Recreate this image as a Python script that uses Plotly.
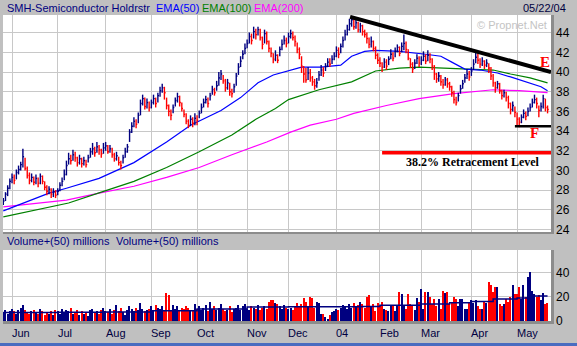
import pandas as pd
import plotly.graph_objects as go

# ---------------- data ----------------
holidays = ["2003-07-04", "2003-09-01", "2003-11-27", "2003-12-25",
            "2004-01-01", "2004-01-19", "2004-02-16", "2004-04-09"]
dates = pd.bdate_range("2003-05-27", "2004-05-21")
dates = dates[~dates.isin(pd.to_datetime(holidays))]

close = [
    26.9, 27.6, 28.2, 28.9,
    29.3, 29.0, 29.8, 30.1, 30.6, 31.4, 30.2, 29.5, 29.0, 29.3, 28.8, 29.2, 28.7, 29.4, 28.9, 28.3, 27.9, 28.1, 27.6, 27.8, 27.5,
    27.9, 28.5, 28.9, 29.6, 30.5, 31.2, 31.0, 31.6, 31.3, 30.8, 31.2, 30.7, 31.0, 30.6, 31.3, 31.9, 32.2, 31.8, 32.4, 32.1, 31.7, 32.3,
    32.5, 31.9, 32.2, 31.6, 31.2, 31.5, 30.8, 30.5, 31.3, 31.9, 32.4, 33.9, 34.5, 35.0, 34.7, 35.6, 36.8, 37.3, 36.5, 36.9, 36.4,
    36.9, 37.3, 36.8, 37.6, 38.1, 38.4, 37.9, 36.6, 36.0, 35.6, 36.4, 37.1, 37.5, 36.9, 36.3, 35.7, 35.0, 34.6, 35.2, 34.8, 35.3,
    35.1, 35.8, 36.4, 36.9, 37.2, 36.8, 37.6, 38.2, 37.9, 38.6, 39.4, 39.8, 39.1, 38.4, 38.9, 38.0, 37.8, 38.5, 39.6, 40.5, 41.1, 41.8, 42.4,
    42.9, 43.6, 43.2, 44.1, 43.8, 44.3, 43.5, 42.8, 43.9, 43.1, 42.4, 41.9, 41.3, 41.7, 41.2, 42.3, 42.8, 43.2, 42.9,
    43.6, 43.9, 43.5, 43.1, 42.3, 41.8, 40.6, 39.8, 39.2, 39.9, 39.4, 39.0, 38.6, 38.9, 39.7, 40.2, 39.9, 40.6, 41.0, 40.8, 41.3, 41.6,
    42.2, 41.8, 42.6, 43.2, 43.8, 44.3, 44.9, 45.3, 44.6, 45.0, 44.3, 44.7, 44.1, 43.8, 43.4, 42.8, 43.1, 42.4, 41.7, 41.2,
    40.9, 40.5, 41.0, 40.6, 41.3, 41.8, 41.4, 42.1, 42.5, 41.9, 42.6, 42.9, 42.3, 41.4, 40.8, 40.3, 40.9, 41.4, 40.9,
    41.2, 41.6, 41.1, 41.7, 41.3, 40.6, 39.8, 39.3, 39.6, 39.0, 38.7, 39.2, 38.8, 38.5, 37.9, 37.2, 36.9, 37.6, 38.3, 38.8, 39.4, 39.8, 39.5,
    40.1, 40.8, 41.5, 41.2, 40.8, 41.1, 40.7, 40.9, 40.4, 39.6, 38.9, 38.4, 38.8, 38.1, 37.6, 37.9, 37.4, 36.8, 36.2, 36.6, 35.9,
    35.2, 34.9, 35.4, 35.8, 35.5, 36.0, 36.4, 36.9, 37.2, 36.8, 36.1, 36.5, 37.3, 36.4, 36.2,
]
high = [
    27.2, 27.8, 28.5, 29.2,
    29.7, 29.6, 30.1, 30.5, 30.9, 32.2, 31.3, 30.4, 29.8, 29.7, 29.4, 29.6, 29.3, 29.7, 29.5, 28.9, 28.5, 28.4, 28.2, 28.2, 28.0,
    28.2, 28.8, 29.3, 30.1, 31.0, 31.8, 31.6, 32.1, 31.9, 31.4, 31.6, 31.3, 31.4, 31.1, 31.6, 32.3, 32.8, 32.4, 32.9, 32.6, 32.2, 32.8,
    32.9, 32.6, 32.6, 32.3, 31.8, 31.9, 31.4, 31.0, 31.6, 32.3, 32.7, 34.2, 34.9, 35.4, 35.2, 35.9, 37.2, 37.7, 37.4, 37.3, 37.0,
    37.2, 37.7, 37.4, 37.9, 38.5, 38.8, 38.5, 37.4, 36.7, 36.2, 36.7, 37.4, 37.9, 37.6, 36.9, 36.2, 35.8, 35.2, 35.6, 35.4, 35.8,
    35.6, 36.1, 36.8, 37.3, 37.6, 37.4, 37.9, 38.6, 38.4, 39.1, 40.0, 40.2, 39.7, 39.3, 39.3, 38.9, 38.3, 38.8, 39.9, 40.9, 41.6, 42.2, 42.9,
    43.3, 44.0, 43.9, 44.6, 44.4, 44.6, 44.4, 43.6, 44.3, 44.1, 43.2, 42.5, 41.9, 42.2, 41.8, 42.6, 43.3, 43.7, 43.5,
    44.0, 44.3, 44.1, 43.7, 43.0, 42.5, 41.6, 40.6, 40.4, 40.5, 40.3, 39.6, 39.3, 39.4, 40.1, 40.7, 40.5, 40.9, 41.4, 41.4, 41.7, 42.0,
    42.6, 42.5, 42.9, 43.6, 44.3, 44.8, 45.4, 45.6, 45.5, 45.4, 45.1, 45.0, 44.8, 44.3, 44.0, 43.5, 43.6, 43.2, 42.6, 41.9,
    41.5, 41.0, 41.4, 41.3, 41.6, 42.3, 42.0, 42.5, 42.8, 42.6, 43.0, 43.8, 43.1, 42.3, 41.4, 41.0, 41.3, 41.8, 41.6,
    41.6, 42.1, 41.8, 42.2, 41.9, 41.4, 40.7, 39.9, 40.0, 39.7, 39.3, 39.5, 39.4, 39.0, 38.6, 38.1, 37.5, 37.9, 38.7, 39.2, 39.8, 40.3, 40.1,
    40.5, 41.3, 42.0, 41.9, 41.4, 41.5, 41.2, 41.3, 40.9, 40.5, 39.8, 39.0, 39.1, 38.9, 38.2, 38.2, 38.0, 37.6, 36.9, 37.0, 36.5,
    35.9, 35.4, 35.7, 36.2, 36.0, 36.4, 36.8, 37.3, 37.7, 37.4, 36.6, 36.9, 37.7, 37.3, 36.6,
]
low = [
    26.5, 26.9, 27.4, 28.1,
    28.7, 28.6, 29.1, 29.6, 30.0, 30.3, 30.0, 29.2, 28.6, 28.8, 28.5, 28.6, 28.3, 28.6, 28.6, 28.0, 27.5, 27.6, 27.2, 27.3, 27.2,
    27.5, 27.9, 28.4, 29.0, 29.5, 30.6, 30.6, 31.0, 30.9, 30.4, 30.6, 30.3, 30.5, 30.3, 30.8, 31.3, 31.6, 31.4, 31.8, 31.6, 31.3, 31.7,
    32.0, 31.7, 31.8, 31.3, 30.9, 31.0, 30.5, 30.1, 30.7, 31.3, 31.8, 32.9, 33.8, 34.4, 34.3, 34.8, 35.6, 36.6, 36.2, 36.3, 36.0,
    36.3, 36.7, 36.4, 36.9, 37.5, 37.9, 37.2, 36.2, 35.5, 35.1, 35.8, 36.5, 36.9, 36.5, 36.0, 35.4, 34.7, 34.3, 34.5, 34.4, 34.6,
    34.6, 35.3, 35.8, 36.4, 36.8, 36.4, 37.1, 37.7, 37.6, 38.1, 38.6, 39.2, 38.8, 38.0, 38.2, 37.6, 37.4, 37.9, 38.6, 39.7, 40.5, 41.3, 41.8,
    42.4, 42.9, 42.8, 43.4, 43.3, 43.7, 43.2, 42.3, 42.9, 42.8, 42.0, 41.5, 40.9, 41.1, 40.9, 41.6, 42.2, 42.8, 42.5,
    42.9, 43.4, 43.2, 42.6, 41.9, 41.3, 39.9, 38.9, 38.9, 39.2, 39.0, 38.6, 38.2, 38.4, 39.1, 39.6, 39.5, 40.1, 40.5, 40.5, 40.8, 41.2,
    41.5, 41.4, 41.9, 42.5, 43.2, 43.7, 44.2, 44.6, 44.3, 44.4, 44.0, 44.0, 43.7, 43.5, 42.9, 42.4, 42.5, 42.1, 41.3, 40.8,
    40.5, 40.0, 40.4, 40.2, 40.7, 41.3, 41.1, 41.5, 42.0, 41.6, 42.0, 42.2, 41.9, 41.2, 40.4, 39.9, 40.3, 40.8, 40.5,
    40.7, 41.1, 40.8, 41.1, 40.9, 40.2, 39.2, 38.9, 39.0, 38.6, 38.3, 38.6, 38.4, 38.1, 37.5, 36.8, 36.6, 37.0, 37.8, 38.3, 38.9, 39.3, 39.1,
    39.6, 40.2, 40.9, 40.8, 40.4, 40.6, 40.3, 40.5, 39.9, 39.2, 38.5, 37.9, 38.3, 37.8, 37.2, 37.4, 37.0, 36.3, 35.7, 36.0, 35.4,
    34.6, 34.4, 34.8, 35.3, 35.1, 35.5, 36.0, 36.4, 36.8, 36.3, 35.4, 36.0, 36.3, 36.0, 35.8,
]
volume = [
    7, 9, 6, 8,
    10, 8, 6, 9, 11, 13, 9, 7, 6, 8, 9, 7, 6, 10, 8, 5, 7, 6, 8, 5, 9,
    8, 6, 10, 7, 9, 8, 11, 6, 7, 9, 5, 8, 6, 7, 4, 9, 10, 7, 8, 6, 9, 11,
    8, 7, 10, 6, 9, 13, 8, 11, 7, 5, 9, 12, 10, 8, 11, 9, 15, 10, 8, 9, 10,
    12, 8, 13, 11, 10, 12, 9, 23, 21, 8, 13, 10, 12, 9, 11, 10, 12, 11, 8, 9, 14,
    10, 12, 9, 11, 13, 8, 16, 10, 12, 9, 11, 14, 10, 8, 9, 12, 7, 10, 11, 13, 9, 12, 14,
    10, 9, 12, 11, 10, 13, 9, 11, 12, 10, 16, 17, 17, 15, 14, 12, 10, 13, 11,
    10, 11, 9, 12, 15, 12, 14, 19, 16, 12, 20, 19, 11, 16, 15, 6, 6, 3, 2, 5, 7, 8,
    10, 9, 11, 13, 12, 10, 14, 11, 15, 12, 13, 16, 14, 11, 20, 21, 12, 14, 8, 15,
    12, 16, 10, 9, 8, 12, 13, 8, 12, 24, 22, 12, 10, 22, 14, 12, 9, 19, 16,
    26, 10, 24, 24, 20, 14, 18, 12, 18, 10, 25, 23, 24, 14, 16, 20, 18, 12, 18, 18, 10, 10, 16,
    17, 15, 17, 12, 10, 10, 16, 15, 32, 30, 24, 28, 28, 14, 12, 14, 18, 16, 20, 30, 22,
    22, 28, 18, 30, 20, 36, 40, 25, 22, 20, 21, 17, 23, 14, 15,
]

# moving averages at sample bars
ema50_idx = [0, 8, 21, 29, 44, 60, 75, 86, 100, 109, 117, 124, 132, 137, 146, 155, 160, 166, 171, 182, 194, 201, 206, 212, 219, 227, 233, 240, 247, 250]
ema50_val = [25.9, 26.6, 27.7, 28.2, 29.2, 30.8, 32.9, 34.6, 36.1, 37.4, 38.9, 39.7, 40.2, 40.5, 40.5, 40.7, 41.6, 42.1, 42.2, 42.1, 41.8, 41.6, 41.0, 40.3, 40.2, 39.9, 39.5, 39.0, 38.5, 38.1]
ema100_idx = [0, 15, 30, 45, 60, 75, 90, 105, 116, 125, 131, 145, 160, 171, 182, 191, 203, 212, 219, 225, 233, 242, 250]
ema100_val = [25.3, 26.0, 26.7, 27.8, 28.9, 30.3, 31.9, 33.6, 35.2, 36.3, 37.2, 38.2, 39.0, 40.1, 40.4, 40.5, 40.4, 40.3, 40.3, 40.2, 39.8, 39.4, 38.9]
ema200_idx = [0, 15, 29, 44, 60, 75, 90, 105, 121, 132, 141, 153, 161, 176, 191, 207, 216, 225, 237, 250]
ema200_val = [26.3, 26.7, 27.0, 27.7, 28.4, 29.3, 30.3, 31.6, 32.9, 33.9, 34.6, 35.2, 35.8, 36.6, 37.3, 37.8, 38.0, 38.2, 38.1, 37.9]
vol_avg_idx = [0, 25, 47, 68, 89, 112, 131, 153, 165, 173, 192, 205, 215, 225, 236, 242, 250]
vol_avg_val = [7.0, 7.2, 7.5, 8.5, 9.9, 11.5, 11.8, 11.8, 12.0, 13.0, 14.0, 15.0, 16.0, 18.0, 19.0, 20.5, 20.5]

# drawn annotations (bar index, price)
trend_idx = [159.3, 251.6]
trend_val = [45.6, 40.0]
support_idx = [235.0, 251.6]
support_val = [34.5, 34.5]
retr_idx = [174.0, 251.6]
retr_val = [31.8, 31.8]

price_ticks = list(range(24, 46, 2))
volume_ticks = [0, 20, 40]

# ---------------- styling ----------------
NAVY = "#000080"
RED = "#ff0000"
GRID = "#c8c8c8"
GRAY = "#c0c0c0"
SANS = "Liberation Sans, Arial, sans-serif"
SERIF = "Liberation Serif, Times New Roman, serif"

W, H = 577, 346
PL, PR, PT, PB = 3, 551, 15, 321


def px(x):
    return (x - PL) / (PR - PL)


def py(y):
    return (PB - y) / (PB - PT)


n = len(close)
xs_idx = list(range(n))
up = [i == 0 or close[i] >= close[i - 1] for i in range(n)]

month_pos = [i for i in range(1, len(dates)) if dates[i].month != dates[i - 1].month]
month_text = ["04" if dates[i].month == 1 else dates[i].strftime("%b") for i in month_pos]

fig = go.Figure()

# EMAs
for idx, val, col in [(ema200_idx, ema200_val, "#ff00ff"),
                      (ema100_idx, ema100_val, "#008000"),
                      (ema50_idx, ema50_val, "#0000ff")]:
    fig.add_trace(go.Scatter(x=idx, y=val, mode="lines", line=dict(color=col, width=1.2),
                             xaxis="x", yaxis="y", hoverinfo="skip"))

# price bars
for flag, col in [(True, NAVY), (False, RED)]:
    bx, by = [], []
    for i in range(n):
        if up[i] != flag:
            continue
        bx += [i, i, None, i, i + 0.55, None]
        by += [low[i], high[i], None, close[i], close[i], None]
    fig.add_trace(go.Scatter(x=bx, y=by, mode="lines", line=dict(color=col, width=1.4),
                             xaxis="x", yaxis="y", hoverinfo="skip", connectgaps=False))

# annotation lines
fig.add_trace(go.Scatter(x=trend_idx, y=trend_val, mode="lines", line=dict(color="black", width=4),
                         xaxis="x", yaxis="y"))
fig.add_trace(go.Scatter(x=support_idx, y=support_val, mode="lines", line=dict(color="black", width=2.5),
                         xaxis="x", yaxis="y"))
fig.add_trace(go.Scatter(x=retr_idx, y=retr_val, mode="lines", line=dict(color=RED, width=3.5),
                         xaxis="x", yaxis="y"))

# volume
fig.add_trace(go.Bar(x=xs_idx, y=volume, marker=dict(color=[NAVY if u else RED for u in up], line_width=0),
                     width=0.6, xaxis="x2", yaxis="y2"))
fig.add_trace(go.Scatter(x=vol_avg_idx, y=vol_avg_val, mode="lines", line=dict(color=NAVY, width=1.5, shape="hv"),
                         xaxis="x2", yaxis="y2"))

xr = [(PL - 3.3) / 2.177, (PR - 3.3) / 2.177]
axis_common = dict(tickvals=month_pos, showticklabels=False, showgrid=True, gridcolor=GRID, gridwidth=1,
                   zeroline=False, showline=False, ticks="", range=xr, fixedrange=True)

shapes = [
    dict(type="rect", xref="paper", yref="paper", x0=0, x1=1, y0=py(232), y1=1,
         fillcolor="white", line_width=0, layer="below"),
    dict(type="rect", xref="paper", yref="paper", x0=0, x1=1, y0=0, y1=py(250),
         fillcolor="white", line_width=0, layer="below"),
    # dark frame edges
    dict(type="rect", xref="paper", yref="paper", x0=px(551), x1=px(554), y0=py(234), y1=py(15),
         fillcolor="#8c8c8c", line_width=0, layer="above"),
    dict(type="rect", xref="paper", yref="paper", x0=px(3), x1=px(554), y0=py(234), y1=py(232),
         fillcolor="#8c8c8c", line_width=0, layer="above"),
    dict(type="rect", xref="paper", yref="paper", x0=px(551), x1=px(554), y0=py(324), y1=py(250),
         fillcolor="#8c8c8c", line_width=0, layer="above"),
    dict(type="rect", xref="paper", yref="paper", x0=px(3), x1=px(554), y0=py(324), y1=py(321),
         fillcolor="#8c8c8c", line_width=0, layer="above"),
    dict(type="rect", xref="paper", yref="paper", x0=px(0), x1=px(577), y0=py(346), y1=py(343),
         fillcolor="#4a6cc0", line_width=0, layer="above"),
]

annotations = []


def txt(x, y, s, color, size=11, anchor="left", family=SANS, bold=False):
    annotations.append(dict(xref="paper", yref="paper", x=px(x), y=py(y), text=("<b>%s</b>" % s) if bold else s,
                            showarrow=False, xanchor=anchor, yanchor="middle",
                            font=dict(family=family, size=size, color=color), borderpad=0))


txt(6, 8, "SMH-Semiconductor Holdrstr", NAVY)
txt(155, 8, "EMA(50)", "#0000ff")
txt(201, 8, "EMA(100)", "#008000")
txt(253, 8, "EMA(200)", "#ff00ff")
txt(567, 8, "05/22/04", "#000040", anchor="right")
txt(548, 25, "© Propnet.Net", "#c4c4c4", size=11, anchor="right")
txt(6, 241, "Volume+(50) millions", NAVY)
txt(115, 241, "Volume+(50) millions", NAVY)
txt(473, 162, "38.2% Retracement Level", "black", size=12, anchor="center", family=SERIF, bold=True)
txt(545, 62, "E", RED, size=15, anchor="center", family=SERIF, bold=True)
txt(534, 133, "F", RED, size=15, anchor="center", family=SERIF, bold=True)

for pos, lab in zip(month_pos, month_text):
    annotations.append(dict(xref="x", yref="paper", x=pos, y=py(333), text=lab, showarrow=False,
                            xanchor="left", yanchor="middle", xshift=-1,
                            font=dict(family=SANS, size=11, color="#000040"), borderpad=0))

fig.update_layout(
    width=W, height=H,
    margin=dict(l=PL, r=W - PR, t=PT, b=H - PB),
    paper_bgcolor=GRAY, plot_bgcolor=GRAY,
    showlegend=False, bargap=0,
    font=dict(family=SANS, size=11, color="black"),
    xaxis=dict(domain=[0, 1], anchor="y", **axis_common),
    xaxis2=dict(domain=[0, 1], anchor="y2", matches="x", **axis_common),
    yaxis=dict(domain=[py(232), 1], anchor="x", range=[40 - (232 - 72) / 9.85, 40 - (15 - 72) / 9.85],
               side="right", tickvals=price_ticks, showgrid=True, gridcolor=GRID, zeroline=False, ticks="",
               ticklabelstandoff=4, tickfont=dict(size=12, color="black"), fixedrange=True),
    yaxis2=dict(domain=[0, py(250)], anchor="x2", range=[0, 58.4], side="right", tickvals=volume_ticks,
                showgrid=True, gridcolor=GRID, zeroline=False, ticks="", ticklabelstandoff=4,
                tickfont=dict(size=12, color="black"), fixedrange=True),
    shapes=shapes, annotations=annotations,
)

fig.write_html("out.html")
